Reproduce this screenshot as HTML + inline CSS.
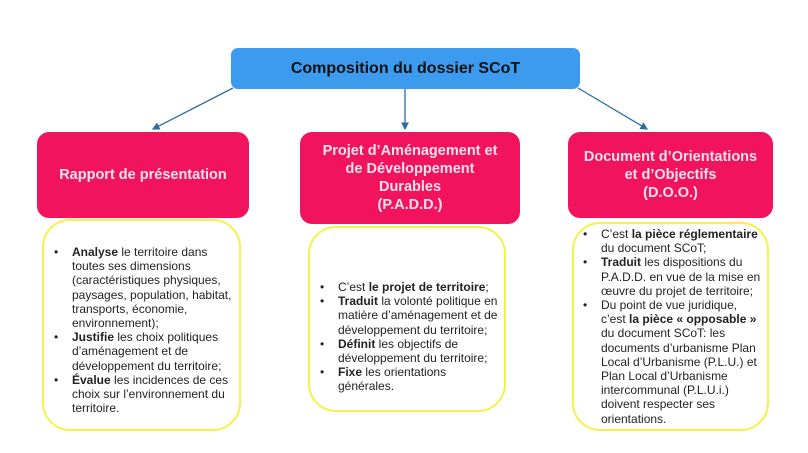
<!DOCTYPE html>
<html><head><meta charset="utf-8"><style>
body{margin:0;width:808px;height:453px;background:#fff;position:relative;overflow:hidden;font-family:"Liberation Sans",Arial,sans-serif;}
.b{position:absolute;box-sizing:border-box;}
.top{left:231px;top:48px;width:349px;height:41px;background:#3d9bef;border-radius:7px;font-weight:bold;font-size:16px;text-align:center;line-height:41px;color:#111;}
.pink{background:#f2135e;border-radius:12px;color:#fbe3ee;font-weight:bold;font-size:14.5px;text-align:center;display:flex;align-items:center;justify-content:center;line-height:18px;}
.yel{border:2.5px solid #f4f24a;border-radius:28px;background:#fff;}
.t{position:absolute;font-size:12px;line-height:14.2px;color:#222;white-space:nowrap;}
.t div{position:relative;}
.t .bl{position:absolute;left:-18px;}
</style></head><body>
<svg class="b" style="left:0;top:0" width="808" height="453">
<defs><marker id="a" markerWidth="6" markerHeight="6" refX="5" refY="3" orient="auto"><path d="M0,0 L6,3 L0,6z" fill="#2e6da4"/></marker></defs>
<g stroke="#2e6da4" stroke-width="1.3" fill="none">
<line x1="233" y1="88" x2="153" y2="129" marker-end="url(#a)"/>
<line x1="405" y1="89" x2="405" y2="129" marker-end="url(#a)"/>
<line x1="578" y1="88" x2="647" y2="129" marker-end="url(#a)"/>
</g></svg>
<div class="b top">Composition du dossier SCoT</div>
<div class="b pink" style="left:37px;top:132px;width:212px;height:86px;">Rapport de présentation</div>
<div class="b pink" style="left:300px;top:132px;width:220px;height:92px;">Projet d’Aménagement et<br>de Développement<br>Durables<br>(P.A.D.D.)</div>
<div class="b pink" style="left:568px;top:132px;width:205px;height:86px;">Document d’Orientations<br>et d’Objectifs<br>(D.O.O.)</div>
<div class="b yel" style="left:42px;top:219px;width:199px;height:212px;"></div>
<div class="b yel" style="left:308px;top:226px;width:198px;height:186px;"></div>
<div class="b yel" style="left:572px;top:222px;width:197px;height:209px;"></div>
<div class="t" style="left:72px;top:245px;">
<div><span class="bl">•</span><b>Analyse</b> le territoire dans</div><div>toutes ses dimensions</div><div>(caractéristiques physiques,</div><div>paysages, population, habitat,</div><div>transports, économie,</div><div>environnement);</div>
<div><span class="bl">•</span><b>Justifie</b> les choix politiques</div><div>d’aménagement et de</div><div>développement du territoire;</div>
<div><span class="bl">•</span><b>Évalue</b> les incidences de ces</div><div>choix sur l’environnement du</div><div>territoire.</div></div>
<div class="t" style="left:338px;top:280px;">
<div><span class="bl">•</span>C’est <b>le projet de territoire</b>;</div>
<div><span class="bl">•</span><b>Traduit</b> la volonté politique en</div><div>matière d’aménagement et de</div><div>développement du territoire;</div>
<div><span class="bl">•</span><b>Définit</b> les objectifs de</div><div>développement du territoire;</div>
<div><span class="bl">•</span><b>Fixe</b> les orientations</div><div>générales.</div></div>
<div class="t" style="left:601px;top:227px;">
<div><span class="bl">•</span>C’est <b>la pièce réglementaire</b></div><div>du document SCoT;</div>
<div><span class="bl">•</span><b>Traduit</b> les dispositions du</div><div>P.A.D.D. en vue de la mise en</div><div>œuvre du projet de territoire;</div>
<div><span class="bl">•</span>Du point de vue juridique,</div><div>c’est <b>la pièce « opposable »</b></div><div>du document SCoT: les</div><div>documents d’urbanisme Plan</div><div>Local d’Urbanisme (P.L.U.) et</div><div>Plan Local d’Urbanisme</div><div>intercommunal (P.L.U.i.)</div><div>doivent respecter ses</div><div>orientations.</div></div>
</body></html>
